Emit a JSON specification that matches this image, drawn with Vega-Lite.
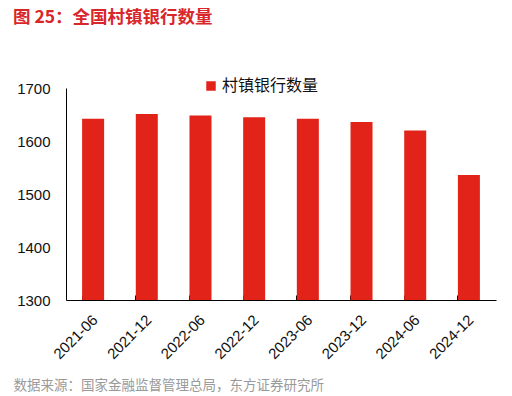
{
  "$schema": "https://vega.github.io/schema/vega-lite/v6.json",
  "width": 430,
  "height": 212,
  "autosize": {"type": "none"},
  "padding": {"left": 66, "top": 88, "right": 16, "bottom": 96},
  "background": "white",
  "config": {
    "font": "Liberation Sans",
    "view": {"stroke": null}
  },
  "title": {
    "text": "图 25：全国村镇银行数量",
    "anchor": "start",
    "frame": "group",
    "dx": -53,
    "offset": 52,
    "fontSize": 17.5,
    "fontWeight": "bold",
    "color": "#d8262a",
    "font": "Noto Sans CJK SC"
  },
  "data": {
    "values": [
      {"date": "2021-06", "count": 1642},
      {"date": "2021-12", "count": 1651},
      {"date": "2022-06", "count": 1648},
      {"date": "2022-12", "count": 1645},
      {"date": "2023-06", "count": 1642},
      {"date": "2023-12", "count": 1636},
      {"date": "2024-06", "count": 1620},
      {"date": "2024-12", "count": 1536}
    ]
  },
  "mark": {"type": "bar", "clip": true},
  "encoding": {
    "x": {
      "field": "date",
      "type": "ordinal",
      "scale": {"paddingInner": 0.59, "paddingOuter": 0.3},
      "axis": {
        "title": "数据来源：国家金融监督管理总局，东方证券研究所",
        "titleFont": "Noto Sans CJK SC",
        "titleFontSize": 13.5,
        "titleFontWeight": "normal",
        "titleColor": "#9a9a9a",
        "titleAnchor": "start",
        "titleAlign": "left",
        "titleX": -53,
        "titleY": 85,
        "titleBaseline": "middle",
        "labelAngle": -45,
        "labelAlign": "right",
        "labelBaseline": "middle",
        "labelFontSize": 15,
        "labelColor": "#111",
        "labelPadding": 22,
        "bandPosition": 0,
        "tickSize": -5,
        "tickColor": "#000",
        "domainColor": "#000",
        "labelOffset": 2
      }
    },
    "y": {
      "field": "count",
      "type": "quantitative",
      "scale": {"domain": [1300, 1700], "zero": false},
      "axis": {
        "title": null,
        "values": [1300, 1400, 1500, 1600, 1700],
        "format": "d",
        "grid": false,
        "ticks": false,
        "labelFontSize": 15,
        "labelColor": "#111",
        "labelPadding": 16,
        "domainColor": "#000"
      }
    },
    "color": {
      "datum": "村镇银行数量",
      "scale": {"range": ["#e2231a"]},
      "legend": {
        "title": null,
        "orient": "none",
        "legendX": 137,
        "legendY": -10,
        "symbolType": "square",
        "symbolSize": 90,
        "symbolStrokeWidth": 0,
        "labelFont": "Noto Sans CJK SC",
        "labelFontSize": 16,
        "labelColor": "#111",
        "labelOffset": 3
      }
    }
  }
}
